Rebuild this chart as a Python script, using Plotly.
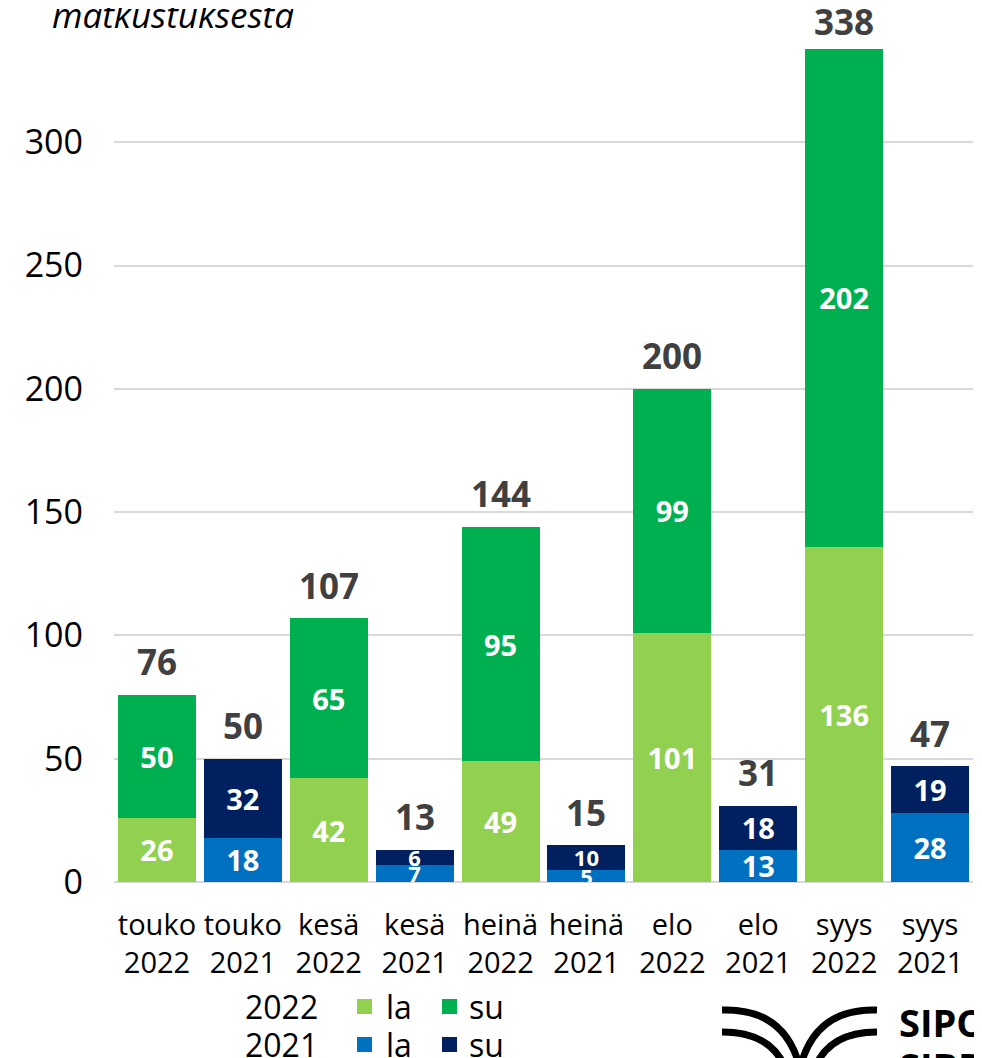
import plotly.graph_objects as go

# ---- data ----
months = ["touko", "touko", "kesä", "kesä", "heinä", "heinä", "elo", "elo", "syys", "syys"]
years = ["2022", "2021", "2022", "2021", "2022", "2021", "2022", "2021", "2022", "2021"]
la_values = [26, 18, 42, 7, 49, 5, 101, 13, 136, 28]
su_values = [50, 32, 65, 6, 95, 10, 99, 18, 202, 19]
y_ticks = [0, 50, 100, 150, 200, 250, 300]
title_text = "matkustuksesta"

categories = [f"{m}<br>{y}" for m, y in zip(months, years)]
totals = [a + b for a, b in zip(la_values, su_values)]

colors = {
    ("2022", "la"): "#92d050",
    ("2022", "su"): "#00b050",
    ("2021", "la"): "#0070c0",
    ("2021", "su"): "#002060",
}

FONT = "Open Sans"
W, H = 982, 1058
OFF = 8  # page body offset
ML, MR, MT, MB = 114 - OFF, 17, 19 - OFF, 184
PW, PH = W - ML - MR, H - MT - MB
YMAX = 350


def px(x, y):
    """screen pixel -> paper coords"""
    x -= OFF
    y -= OFF
    return (x - ML) / PW, (H - MB - y) / PH


fig = go.Figure()
for yr in ["2022", "2021"]:
    for kind, vals in [("la", la_values), ("su", su_values)]:
        ys = [v if y == yr else None for v, y in zip(vals, years)]
        sizes = [22 if (v is not None and v < 12) else 29 for v in ys]
        fig.add_trace(go.Bar(
            x=categories, y=ys,
            text=[str(v) if v is not None else "" for v in ys],
            textposition="inside", insidetextanchor="middle", textangle=0,
            constraintext="none",
            textfont=dict(family=FONT, size=sizes, color="white", weight="bold"),
            marker=dict(color=colors[(yr, kind)], line=dict(width=0)),
            showlegend=False, cliponaxis=True, name=f"{yr} {kind}",
        ))

scale = PH / YMAX
for c, t in zip(categories, totals):
    top_px = MT + OFF + (YMAX - t) * scale
    center = max(top_px - 33, 21)
    fig.add_annotation(x=c, y=t, xref="x", yref="y", text=str(t), showarrow=False,
                       yanchor="middle", yshift=top_px - center,
                       font=dict(family=FONT, size=35, color="#404040", weight="bold"))

# title (visible part)
tx, ty = px(50, 15)
fig.add_annotation(x=tx, y=ty, xref="paper", yref="paper", text=f"<i>{title_text}</i>",
                   showarrow=False, xanchor="left", yanchor="middle",
                   font=dict(family=FONT, size=35, color="black"))

# custom legend
leg_rows = [("2022", 1006), ("2021", 1044)]
for yr, cy in leg_rows:
    x0, y0 = px(243, cy)
    fig.add_annotation(x=x0, y=y0, xref="paper", yref="paper", text=yr, showarrow=False,
                       xanchor="left", yanchor="middle",
                       font=dict(family=FONT, size=32, color="black"))
    for kind, sx, tx_ in [("la", 357, 384), ("su", 442, 467)]:
        a = px(sx, cy - 7)
        b = px(sx + 15, cy + 8)
        fig.add_shape(type="rect", xref="paper", yref="paper", x0=a[0], y0=a[1], x1=b[0], y1=b[1],
                      fillcolor=colors[(yr, kind)], line=dict(width=0))
        t = px(tx_, cy)
        fig.add_annotation(x=t[0], y=t[1], xref="paper", yref="paper", text=kind, showarrow=False,
                           xanchor="left", yanchor="middle",
                           font=dict(family=FONT, size=32, color="black"))


# logo
def path(pts_cmds):
    s = ""
    for cmd, pts in pts_cmds:
        s += cmd + " " + " ".join(f"{px(x, y)[0]:.5f},{px(x, y)[1]:.5f}" for x, y in pts) + " "
    return s.strip()


logo_paths = [
    [("M", [(722, 1010)]), ("Q", [(785, 1008), (800, 1068)])],
    [("M", [(877, 1010)]), ("Q", [(815, 1008), (800, 1068)])],
    [("M", [(722, 1032)]), ("Q", [(772, 1032), (786, 1070)])],
    [("M", [(877, 1032)]), ("Q", [(828, 1032), (814, 1070)])],
]
for p in logo_paths:
    fig.add_shape(type="path", xref="paper", yref="paper", path=path(p),
                  line=dict(color="black", width=7))
for txt, cy in [("SIPOO", 1022), ("SIBBO", 1066)]:
    t = px(897, cy)
    fig.add_annotation(x=t[0], y=t[1], xref="paper", yref="paper", text=f"<b>{txt}</b>",
                       showarrow=False, xanchor="left", yanchor="middle",
                       font=dict(family=FONT, size=38, color="black"))

fig.update_layout(
    width=W, height=H,
    margin=dict(l=ML, r=MR, t=MT, b=MB, pad=0),
    barmode="stack", bargap=0.092,
    plot_bgcolor="white", paper_bgcolor="white",
    font=dict(family=FONT, color="black"),
    xaxis=dict(type="category", tickfont=dict(size=29, color="black"), showgrid=False,
               ticks="", ticklabelstandoff=23, showline=False),
    yaxis=dict(range=[0, YMAX], tickvals=y_ticks, tickfont=dict(size=34, color="black"),
               showgrid=True, gridcolor="#d9d9d9", gridwidth=2, zeroline=True,
               zerolinecolor="#d9d9d9", zerolinewidth=2, ticks="", ticklabelstandoff=30,
               showline=False),
)

fig.write_html("out.html")
